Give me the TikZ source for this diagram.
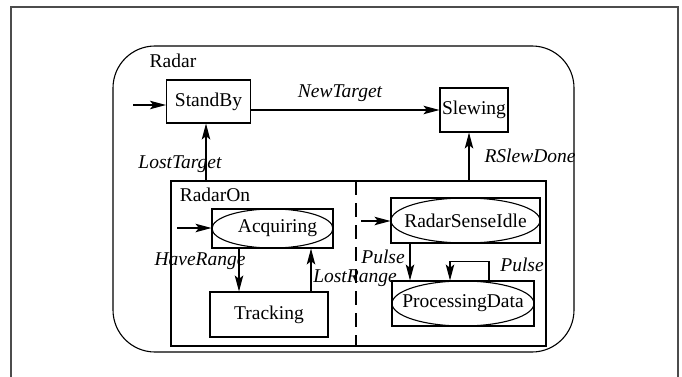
\documentclass[tikz,border=0pt]{standalone}
\usepackage{fontspec}
\setmainfont{Liberation Serif}
\usetikzlibrary{shapes.geometric,arrows.meta}
\begin{document}
\begin{tikzpicture}[x=1pt,y=-1pt,
  font=\fontsize{19.5}{23}\selectfont,
  line width=1.1pt,
  arr/.style={-{Stealth[length=16pt,width=8.5pt,inset=3.5pt]}},
  statebox/.style={draw,rectangle,inner sep=0pt},
  stateoval/.style={draw,ellipse,inner sep=0pt},
  evt/.style={inner sep=0pt,font=\fontsize{19.5}{23}\selectfont\itshape},
  caption/.style={inner sep=0pt}]
\useasboundingbox (0,0) rectangle (682,377);
% page frame
\draw[line width=1.5pt,black!70] (11,7) rectangle (678,400);

% superstate Radar
\draw (113,46) [rounded corners=42pt] rectangle (574,352);
\node[caption] (radarlbl) at (173,61) {Radar};

% top level states
\node[statebox,minimum width=84pt,minimum height=43pt] (sb) at (208.5,101.5) {StandBy};
\node[statebox,minimum width=68pt,minimum height=44pt] (slew) at (474,110) {Slewing};

% composite state RadarOn with two concurrent regions
\node[statebox,minimum width=375pt,minimum height=165pt] (on) at (358.5,263.5) {};
\node[caption] (onlbl) at (215,195) {RadarOn};
\coordinate (dtop) at (356,181);
\coordinate (dbot) at (356,346);
\draw[dash pattern=on 14pt off 8pt] (dtop) -- (dbot);

% left region
\node[statebox,minimum width=121pt,minimum height=39pt] (acqbox) at (272.5,228.5) {\hspace*{10pt}Acquiring};
\node[stateoval,minimum width=121pt,minimum height=39pt] (acq) at (272.5,228.5) {};
\node[statebox,minimum width=118pt,minimum height=45pt] (track) at (269,314.5) {Tracking};

% right region
\node[statebox,minimum width=149pt,minimum height=45pt] (rsibox) at (465.5,220.5) {RadarSenseIdle};
\node[stateoval,minimum width=149pt,minimum height=45pt] (rsi) at (465.5,220.5) {};
\node[statebox,minimum width=142pt,minimum height=45pt] (pdbox) at (463,303.5) {ProcessingData};
\node[stateoval,minimum width=142pt,minimum height=45pt] (pd) at (463,303.5) {};

% initial transitions
\coordinate (init1) at (133,105);
\coordinate (init2) at (177,228);
\coordinate (init3) at (361,221);
\draw[arr] (init1) -- (init1 -| sb.west);
\draw[arr] (init2) -- (init2 -| acqbox.west);
\draw[arr] (init3) -- (init3 -| rsibox.west);

% transitions
\draw[arr] (sb.east |- slew.west) -- (slew.west);
\node[evt] (lnew) at (340,93) {NewTarget};

\draw[arr] ([xshift=-2.5pt]sb.south |- on.north) -- ([xshift=-2.5pt]sb.south);
\node[evt] (llost) at (180,164) {LostTarget};

\draw[arr] ([xshift=-5pt]slew.south |- on.north) -- ([xshift=-5pt]slew.south);
\node[evt] (lslew) at (530,156) {RSlewDone};

\draw[arr] ([xshift=-33.5pt]acqbox.south) -- ([xshift=-33.5pt]acqbox.south |- track.north);
\node[evt] (lhave) at (200,261) {HaveRange};

\draw[arr] ([xshift=42pt]track.north) -- ([xshift=42pt]track.north |- acqbox.south);
\node[evt] (llr) at (355,278) {LostRange};

\draw[arr] ([xshift=-55.5pt]rsibox.south) -- ([xshift=-55.5pt]rsibox.south |- pdbox.north);
\node[evt] (lp1) at (383,257) {Pulse};

\draw[arr] ([xshift=26pt]pdbox.north) |- ([xshift=-13pt,yshift=19pt]pdbox.north) -- ([xshift=-13pt]pdbox.north);
\node[evt] (lp2) at (522,265) {Pulse};
\end{tikzpicture}
\end{document}
